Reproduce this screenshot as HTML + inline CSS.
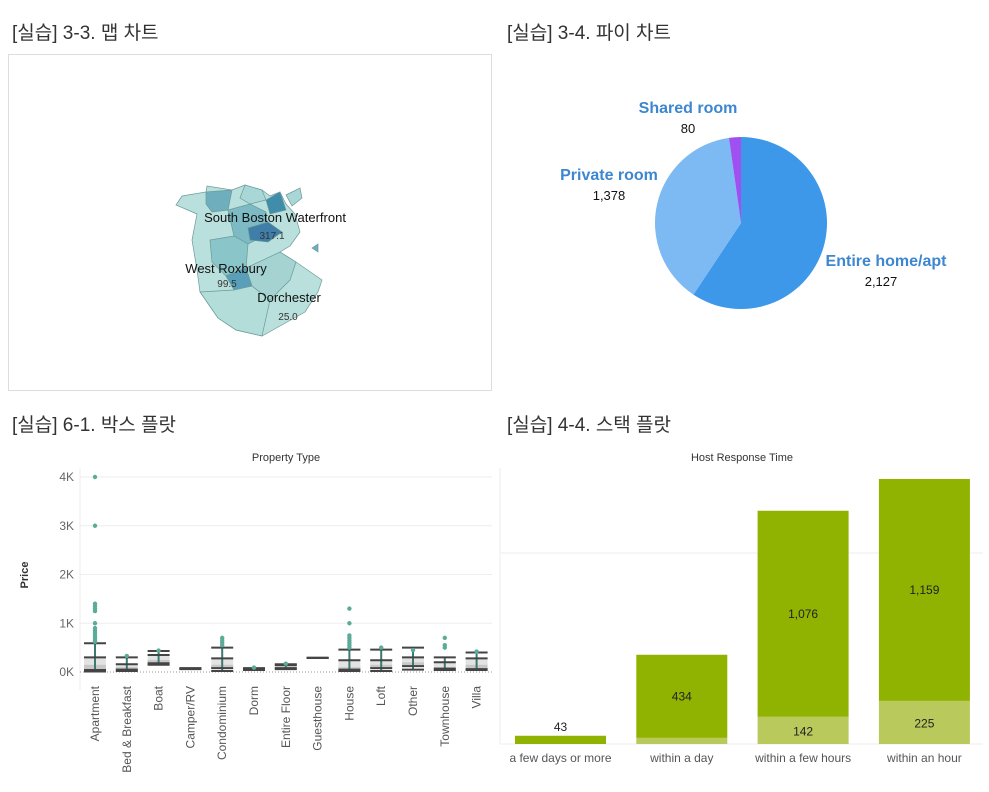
<!DOCTYPE html>
<html><head><meta charset="utf-8"><style>
body{margin:0;width:989px;height:792px;background:#fff;font-family:"Liberation Sans","Noto Sans CJK KR",sans-serif;overflow:hidden;position:relative}
.t{position:absolute;font-size:19px;color:#333}
svg{position:absolute;left:0;top:0}
</style></head><body>
<div class="t" style="left:12px;top:18px">[실습] 3-3. 맵 차트</div>
<div class="t" style="left:507px;top:18px">[실습] 3-4. 파이 차트</div>
<div class="t" style="left:12px;top:410px">[실습] 6-1. 박스 플랏</div>
<div class="t" style="left:507px;top:410px">[실습] 4-4. 스택 플랏</div>
<svg width="989" height="792" id="s" font-family="Liberation Sans, sans-serif">
<rect x="8.5" y="54.5" width="483" height="336" fill="none" stroke="#ddd"/>
<g stroke="#6a9a9a" stroke-width="0.7">
<path d="M197,214 L176,205 L182,196 L206,192 L207,186 L232,190 L245,185 L262,190 L270,196 L280,192 L286,204 L295,214 L300,232 L290,246 L280,252 L296,262 L322,280 L318,292 L305,312 L280,326 L262,336 L236,330 L218,318 L200,292 L197,270 L192,240 Z" fill="#b9e0dc"/>
<path d="M206,192 L232,190 L228,210 L212,212 L206,204 Z" fill="#6fafbd"/>
<path d="M245,185 L262,190 L266,200 L250,204 L240,198 Z" fill="#a9d6d6"/>
<path d="M286,195 L300,188 L302,198 L292,206 Z" fill="#a9d6d6"/>
<path d="M228,210 L250,204 L266,212 L268,234 L248,244 L234,236 Z" fill="#7dbac4"/>
<path d="M248,228 L268,222 L282,232 L268,242 L250,240 Z" fill="#3e7ea8"/>
<path d="M266,200 L280,192 L286,210 L270,214 Z" fill="#3f8cab"/>
<path d="M210,240 L234,236 L248,244 L246,268 L226,276 L212,262 Z" fill="#8ac5c9"/>
<path d="M226,276 L246,268 L252,286 L234,290 Z" fill="#5a9fba"/>
<path d="M200,292 L234,290 L252,286 L270,300 L262,336 L236,330 L218,318 Z" fill="#b2ddd9"/>
<path d="M246,268 L280,252 L296,262 L290,280 L270,300 L252,286 Z" fill="#a4d3d1"/>
<path d="M312,248 L318,244 L318,252 Z" fill="#6fafbd"/>
</g>
<g font-size="13" fill="#111">
<text x="275" y="222" text-anchor="middle">South Boston Waterfront</text>
<text x="272" y="239" text-anchor="middle" font-size="10" fill="#333">317.1</text>
<text x="226" y="273" text-anchor="middle">West Roxbury</text>
<text x="227" y="287" text-anchor="middle" font-size="10" fill="#333">99.5</text>
<text x="289" y="302" text-anchor="middle">Dorchester</text>
<text x="288" y="320" text-anchor="middle" font-size="10" fill="#333">25.0</text>
</g>
<g id="pie"></g><g id="box"></g><g id="bar"></g>
</svg>
<script>
const NS="http://www.w3.org/2000/svg";
function mk(p,t,a){const e=document.createElementNS(NS,t);for(const k in a)e.setAttribute(k,a[k]);p.appendChild(e);return e;}
// PIE
const pieCats=["Entire home/apt","Private room","Shared room"];
const pieVals=[2127,1378,80];
const pieCols=["#3d98e9","#7db9f2","#a050f0"];
const pg=document.getElementById('pie');
{const cx=741,cy=223,r=86;const tot=pieVals.reduce((a,b)=>a+b,0);let a0=0;
pieVals.forEach((v,i)=>{const a1=a0+v/tot*2*Math.PI;
const x0=cx+r*Math.sin(a0),y0=cy-r*Math.cos(a0),x1=cx+r*Math.sin(a1),y1=cy-r*Math.cos(a1);
const p=mk(pg,'path',{d:`M${cx},${cy}L${x0},${y0}A${r},${r} 0 ${a1-a0>Math.PI?1:0} 1 ${x1},${y1}Z`,fill:pieCols[i]});


a0=a1;});
const lp=[[886,266,881,286],[609,180,609,200],[688,113,688,133]];
pieCats.forEach((c,i)=>{const t=mk(pg,'text',{x:lp[i][0],y:lp[i][1],'text-anchor':'middle','font-size':16,'font-weight':'bold',fill:'#3d86d0'});t.textContent=c;


const n=mk(pg,'text',{x:lp[i][2],y:lp[i][3],'text-anchor':'middle','font-size':13,fill:'#111'});n.textContent=pieVals[i].toLocaleString('en-US');

});}
// BOX
const boxCats=["Apartment","Bed & Breakfast","Boat","Camper/RV","Condominium","Dorm","Entire Floor","Guesthouse","House","Loft","Other","Townhouse","Villa"];
const wLo=[10,20,150,60,20,40,60,290,20,20,50,40,40];
const q1=[40,50,180,65,80,50,80,290,50,80,120,70,60];
const med=[150,100,250,70,150,60,110,290,100,150,200,100,150];
const q3=[300,160,350,75,280,70,140,290,240,240,300,200,280];
const wHi=[590,300,430,80,500,80,160,290,460,460,500,300,400];
const outliers=[[4000,3000,1400,1350,1300,1250,1000,900,850,800,750,700,650,620],[330],[440],[],[550,600,650,700],[90],[170],[],[1300,1000,750,700,650,600,550,500],[500],[450],[500,550,700],[420]];
const yTicks=[0,1000,2000,3000,4000];
const yTickLabels=["0K","1K","2K","3K","4K"];
const bg=document.getElementById('box');
const by=v=>672-v*0.04875, bx=i=>95+i*31.8;
{let t=mk(bg,'text',{x:286,y:461,'text-anchor':'middle','font-size':11,fill:'#333'});t.textContent="Property Type";

t=mk(bg,'text',{x:0,y:0,transform:'translate(28,575) rotate(-90)','text-anchor':'middle','font-size':11,'font-weight':'bold',fill:'#333'});t.textContent="Price";

mk(bg,'line',{x1:80,y1:468,x2:80,y2:690,stroke:'#eee'});
yTicks.forEach((v,i)=>{mk(bg,'line',{x1:80,x2:492,y1:by(v),y2:by(v),stroke:v?'#eee':'#999','stroke-dasharray':v?'':'1,2'});
const l=mk(bg,'text',{x:74,y:by(v)+4,'text-anchor':'end','font-size':12,fill:'#666'});l.textContent=yTickLabels[i];
});
boxCats.forEach((c,i)=>{const x=bx(i);
mk(bg,'rect',{x:x-11,y:by(q3[i]),width:22,height:Math.max(1,by(med[i])-by(q3[i])),fill:'#e3e3e3'});
mk(bg,'rect',{x:x-11,y:by(med[i]),width:22,height:Math.max(1,by(q1[i])-by(med[i])),fill:'#c8c8c8'});
mk(bg,'line',{x1:x,x2:x,y1:by(wHi[i]),y2:by(wLo[i]),stroke:'#3b7a70','stroke-width':2});
[wLo[i],wHi[i],q1[i],q3[i]].forEach(v=>mk(bg,'line',{x1:x-11,x2:x+11,y1:by(v),y2:by(v),stroke:'#444','stroke-width':2}));
outliers[i].forEach(v=>mk(bg,'circle',{cx:x,cy:by(v),r:2.2,fill:'#5aab98'}));
const l=mk(bg,'text',{x:0,y:0,transform:`translate(${x+4},686) rotate(-90)`,'text-anchor':'end','font-size':12,fill:'#555'});l.textContent=c;
});}
// BAR
const barCats=["a few days or more","within a day","within a few hours","within an hour"];
const lower=[0,32,142,225];
const upper=[43,434,1076,1159];
const rg=document.getElementById('bar');
{const yb=744,k=0.1915,cx=i=>560.5+i*121.3;
let t=mk(rg,'text',{x:742,y:461,'text-anchor':'middle','font-size':11,fill:'#333'});t.textContent="Host Response Time";

mk(rg,'line',{x1:500,x2:983,y1:553,y2:553,stroke:'#eee'});
mk(rg,'line',{x1:500,x2:500,y1:468,y2:744,stroke:'#eee'});
mk(rg,'line',{x1:500,x2:983,y1:744,y2:744,stroke:'#eee'});
barCats.forEach((c,i)=>{const x=cx(i)-45.5;
const lh=lower[i]*k,uh=upper[i]*k;
let r=mk(rg,'rect',{x,y:yb-lh,width:91,height:lh,fill:'#b9c95c'});

r=mk(rg,'rect',{x,y:yb-lh-uh,width:91,height:uh,fill:'#8fb300'});

const big=uh>30;
let l=mk(rg,'text',{x:cx(i),y:big?yb-lh-uh/2+4:yb-lh-uh-5,'text-anchor':'middle','font-size':12,fill:'#222'});l.textContent=upper[i].toLocaleString('en-US');

if(lh>20){l=mk(rg,'text',{x:cx(i),y:yb-lh/2+5,'text-anchor':'middle','font-size':12,fill:'#222'});l.textContent=lower[i].toLocaleString('en-US');
}
l=mk(rg,'text',{x:cx(i),y:762,'text-anchor':'middle','font-size':12,fill:'#555'});l.textContent=c;
});}
</script>
</body></html>
